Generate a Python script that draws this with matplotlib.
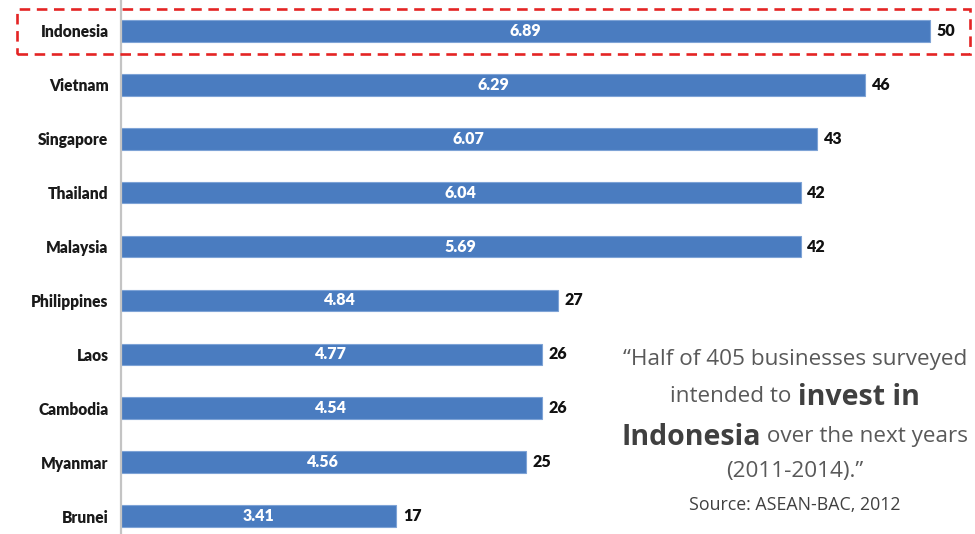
import matplotlib.pyplot as plt
from matplotlib.patches import Rectangle

countries = ["Indonesia", "Vietnam", "Singapore", "Thailand", "Malaysia",
             "Philippines", "Laos", "Cambodia", "Myanmar", "Brunei"]
scores = [6.89, 6.29, 6.07, 6.04, 5.69, 4.84, 4.77, 4.54, 4.56, 3.41]
counts = [50, 46, 43, 42, 42, 27, 26, 26, 25, 17]

BLUE = "#4a7cc0"
W, H = 975, 534

fig = plt.figure(figsize=(W / 100, H / 100), dpi=100)
ax = fig.add_axes([121 / W, 0, 1 - 121 / W, 1])

pos = list(range(len(countries)))
ax.barh(pos, counts, height=0.4, color=BLUE, edgecolor="#7ea3d6", linewidth=0.8)
ax.set_xlim(0, 52.78)
ax.set_ylim(9.334, -0.575)

lbl = dict(family="Lato", fontsize=11.5, fontweight="heavy")
for y, s, c in zip(pos, scores, counts):
    ax.text(c / 2, y, f"{s:.2f}", ha="center", va="center", color="white", **lbl)
    ax.text(c + 0.42, y, str(c), ha="left", va="center", color="#111111", **lbl)

ax.set_yticks(pos)
ax.set_yticklabels(countries, color="#1a1a1a", family="Lato", fontsize=11.2,
                   fontweight="heavy")
ax.tick_params(axis="y", length=0, pad=9)
ax.set_xticks([])
for side in ("top", "right", "bottom"):
    ax.spines[side].set_visible(False)
ax.spines["left"].set_color("#c4c4c4")
ax.spines["left"].set_linewidth(1.6)

# highlight box around the top row
fig.add_artist(Rectangle((17 / W, 1 - 54 / H), (970 - 17) / W, 45 / H,
                         transform=fig.transFigure, fill=False,
                         edgecolor="#e42424", linewidth=1.9,
                         linestyle=(0, (4, 2.5))))

# quote, with some words in heavier type
plain = dict(family="Open Sans", fontsize=16.2, color="#595959")
heavy = dict(family="Open Sans", fontsize=20.5, fontweight="bold", color="#404040")
quote = [
    (357, [("\u201cHalf of 405 businesses surveyed", plain)]),
    (394, [("intended to ", plain), ("invest in", heavy)]),
    (434, [("Indonesia", heavy), (" over the next years", plain)]),
    (469, [("(2011-2014).\u201d", plain)]),
]
renderer = fig.canvas.get_renderer()
cx = 795 / W
for ypx, pieces in quote:
    y = 1 - ypx / H
    texts = [fig.text(0, y, t, ha="left", va="center_baseline", **p)
             for t, p in pieces]
    widths = [t.get_window_extent(renderer).width / W for t in texts]
    x = cx - sum(widths) / 2
    for t, w in zip(texts, widths):
        t.set_x(x)
        x += w

fig.text(cx, 1 - 505 / H, "Source: ASEAN-BAC, 2012", ha="center", va="center",
         family="Open Sans", fontsize=12.8, color="#404040")

fig.savefig("out.png", dpi=100)
